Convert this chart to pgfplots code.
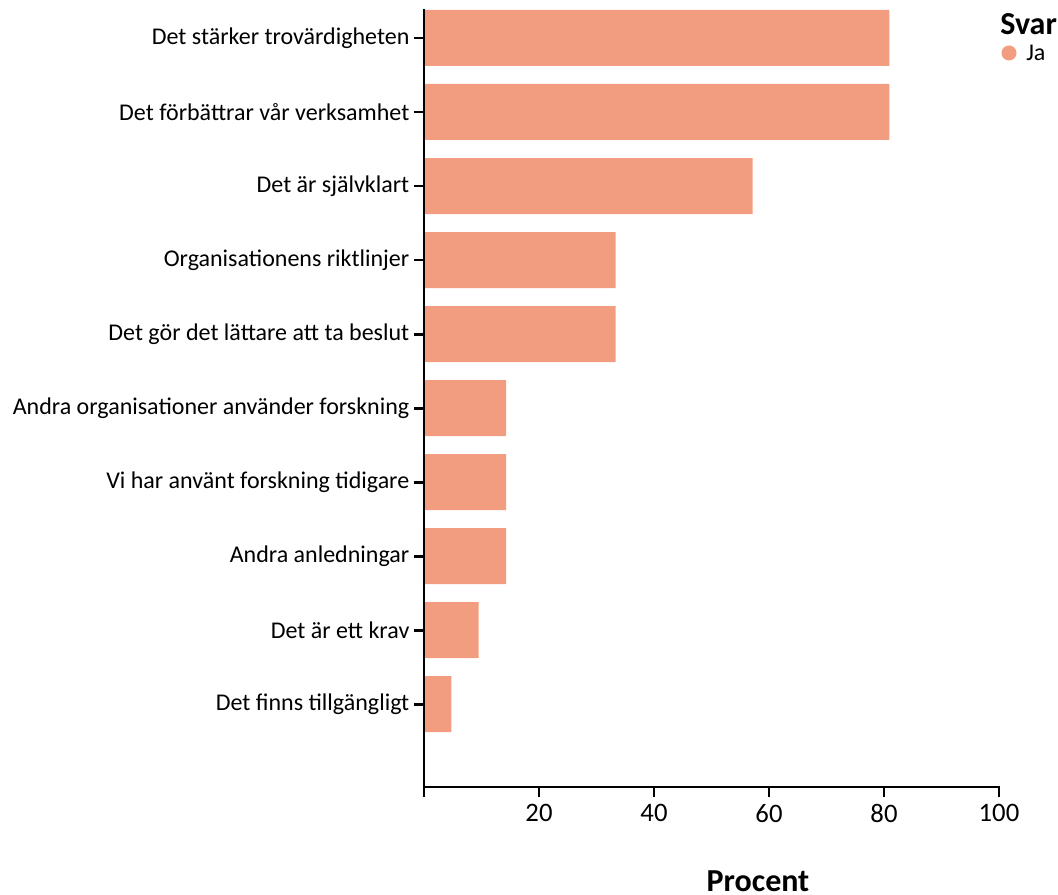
\documentclass[border=0pt]{standalone}
\usepackage{pgfplots}
\pgfplotsset{compat=1.18}
\usepackage{fontspec}
\setmainfont{Carlito}
\definecolor{salmon}{RGB}{242,157,128}

\pgfplotstableread{
pos value
0 80.95
1 80.95
2 57.14
3 33.33
4 33.33
5 14.29
6 14.29
7 14.29
8 9.52
9 4.76
}\svardata

\begin{document}
\begin{tikzpicture}
\begin{axis}[
    at={(318pt,80.25pt)}, anchor=south west,
    scale only axis,
    width=431.25pt, height=582.75pt,
    xmin=0, xmax=100,
    ymin=-0.378, ymax=10.12,
    y dir=reverse,
    axis x line=bottom, axis y line=left,
    axis line style={line width=2.2pt, -},
    xtick={0,20,40,60,80,100},
    xticklabels={,20,40,60,80,100},
    ytick={0,...,9},
    yticklabels={Det stärker trovärdigheten, Det förbättrar vår verksamhet, Det är självklart, Organisationens riktlinjer, Det gör det lättare att ta beslut, Andra organisationer använder forskning, Vi har använt forskning tidigare, Andra anledningar, Det är ett krav, Det finns tillgängligt},
    tick align=outside,
    major tick length=7.5pt,
    tick style={line width=2.2pt, black},
    yticklabel style={font=\fontsize{18}{21}\selectfont},
    xticklabel style={font=\fontsize{20}{23}\selectfont, yshift=-2pt},
    /pgf/number format/assume math mode=true,
    xbar, bar width=42pt,
    clip=false,
]
\addplot[fill=salmon, draw=none] table[x=value, y=pos] {\svardata};
% heavier axis lines, drawn over the default ones
\draw[line width=2.2pt, line cap=rect] (axis cs:0,-0.378) -- (axis cs:0,10.12) -- (axis cs:100,10.12);
\end{axis}
\begin{scope}[x=0.75pt,y=0.75pt]
\useasboundingbox (0,0) rectangle (1058,894);
\node[anchor=west, inner sep=0pt, font=\fontsize{24}{27}\bfseries\selectfont] at (1000,870) {Svar};
\fill[salmon] (1009,841) circle (7.5);
\node[anchor=west, inner sep=0pt, font=\fontsize{18}{21}\selectfont] at (1026,841) {Ja};
\node[inner sep=0pt, font=\fontsize{24}{27}\bfseries\selectfont] at (758,13) {Procent};
\end{scope}
\end{tikzpicture}
\end{document}
